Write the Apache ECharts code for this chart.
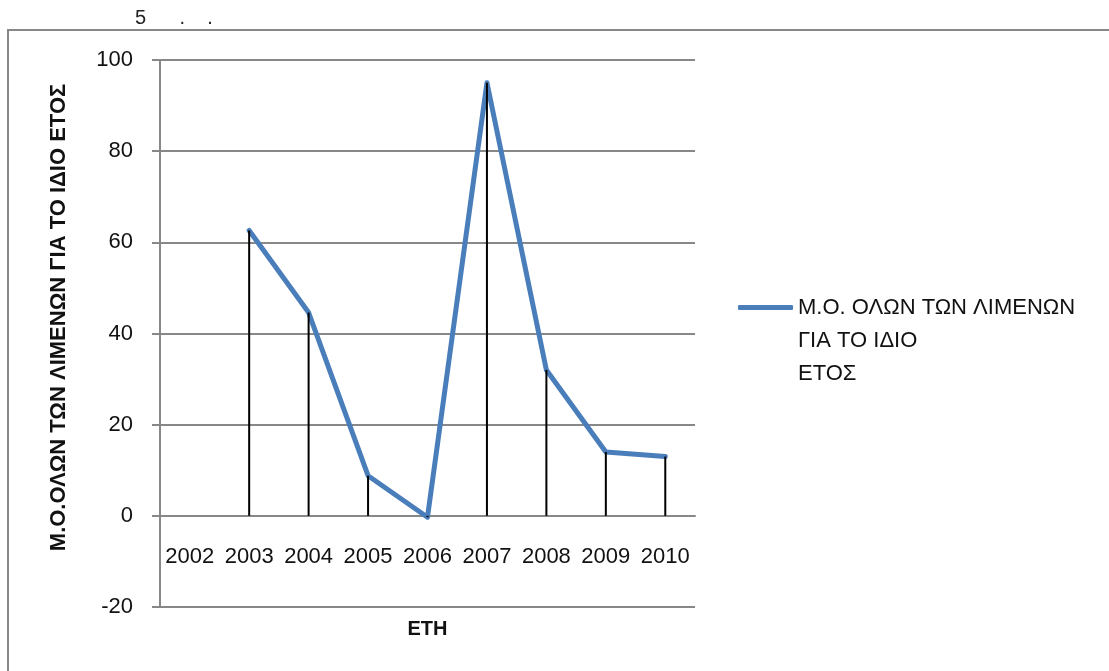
<!DOCTYPE html>
<html>
<head>
<meta charset="utf-8">
<script src="https://cdn.jsdelivr.net/npm/echarts@6/dist/echarts.min.js"></script>
<style>html,body{margin:0;padding:0;background:#fff;}#c{width:1109px;height:671px;}</style>
</head>
<body>
<div id="c"></div>
<script>
const categories = ['2002','2003','2004','2005','2006','2007','2008','2009','2010'];
const values = [null, 62.6, 44.6, 8.8, -0.3, 95, 32, 14, 13];
const seriesName = 'Μ.Ο. ΟΛΩΝ ΤΩΝ ΛΙΜΕΝΩΝ\nΓΙΑ ΤΟ ΙΔΙΟ\nΕΤΟΣ';
const yName = 'Μ.Ο.ΟΛΩΝ ΤΩΝ ΛΙΜΕΝΩΝ ΓΙΑ ΤΟ ΙΔΙΟ ΕΤΟΣ';
const xName = 'ΕΤΗ';
const titleText = '5      .    .';

const font = 'Liberation Sans';
const chart = echarts.init(document.getElementById('c'));
chart.setOption({
  animation: false,
  backgroundColor: '#fff',
  title: {
    text: titleText, left: 130, top: 3,
    textStyle: {fontFamily: font, fontSize: 20, fontWeight: 'normal', color: '#222'}
  },
  graphic: [{
    type: 'rect', z: -1,
    shape: {x: 8, y: 30, width: 1200, height: 800},
    style: {fill: 'none', stroke: '#888', lineWidth: 2}
  }],
  legend: {
    data: [seriesName],
    left: 733, top: 220, orient: 'vertical',
    icon: 'roundRect',
    itemWidth: 55, itemHeight: 5,
    formatter: function (n) { return '\n\n' + n; },
    textStyle: {fontFamily: font, fontSize: 22, color: '#111', lineHeight: 33}
  },
  grid: {left: 160, right: 414, top: 60, bottom: 64, outerBoundsMode: 'none', containLabel: false},
  xAxis: {
    type: 'category', data: categories, boundaryGap: true,
    name: xName, nameLocation: 'middle', nameGap: 12,
    nameTextStyle: {fontFamily: font, fontSize: 20, fontWeight: 'bold', color: '#111'},
    axisLine: {onZero: true, lineStyle: {color: '#888', width: 2}},
    axisTick: {show: false},
    axisLabel: {fontFamily: font, fontSize: 22, color: '#111', margin: -61, interval: 0}
  },
  yAxis: {
    type: 'value', min: -20, max: 100, interval: 20,
    name: yName, nameLocation: 'middle', nameGap: 90, nameRotate: 90,
    nameTextStyle: {fontFamily: font, fontSize: 22, fontWeight: 'bold', color: '#111', padding: [0, 0, 0, 32]},
    axisLine: {show: true, lineStyle: {color: '#888', width: 2}},
    axisTick: {show: true, length: 8, lineStyle: {color: '#888', width: 2}},
    axisLabel: {fontFamily: font, fontSize: 22, color: '#111', margin: 27},
    splitLine: {show: true, lineStyle: {color: '#888', width: 2}}
  },
  series: [{
    name: seriesName, type: 'line', data: values, symbol: 'none',
    connectNulls: false, z: 2,
    lineStyle: {color: '#4A7EBB', width: 5, cap: 'round', join: 'round'},
    itemStyle: {color: '#4A7EBB'}
  }, {
    name: 'drop', type: 'bar', data: values, barWidth: 2, z: 3,
    itemStyle: {color: '#000'}, silent: true
  }]
});
</script>
</body>
</html>
